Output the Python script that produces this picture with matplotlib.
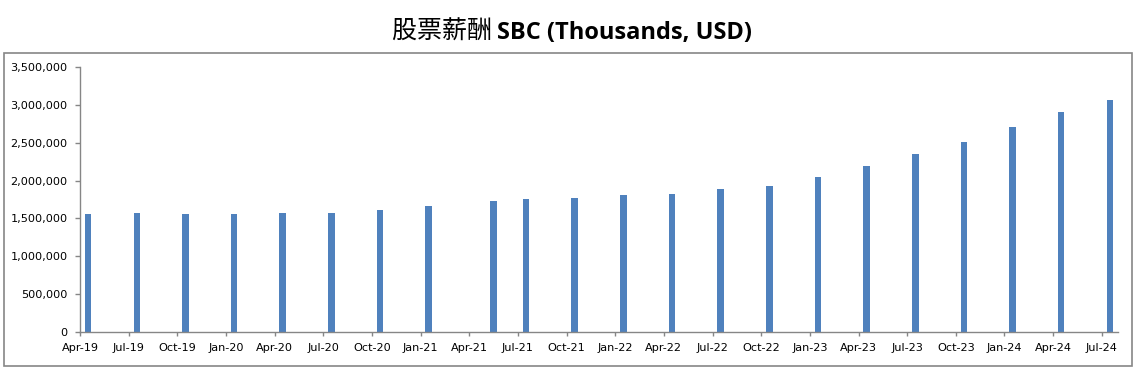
import pandas as pd
import matplotlib
matplotlib.use("Agg")
import matplotlib.pyplot as plt
from matplotlib.patches import Rectangle
from matplotlib.offsetbox import TextArea, HPacker, AnnotationBbox
from matplotlib.ticker import FuncFormatter

# quarterly SBC, thousands USD (note May-21 instead of Apr-21)
periods = ["2019-04", "2019-07", "2019-10", "2020-01", "2020-04", "2020-07",
           "2020-10", "2021-01", "2021-05", "2021-07", "2021-10", "2022-01",
           "2022-04", "2022-07", "2022-10", "2023-01", "2023-04", "2023-07",
           "2023-10", "2024-01", "2024-04", "2024-07"]
sbc = [1562000, 1571000, 1562000, 1562000, 1571000, 1571000,
       1611000, 1664000, 1730000, 1757000, 1770000, 1810000,
       1823000, 1889000, 1929000, 2048000, 2193000, 2352000,
       2511000, 2710000, 2908000, 3067000]
tick_labels = ["Apr-19", "Jul-19", "Oct-19", "Jan-20", "Apr-20", "Jul-20",
               "Oct-20", "Jan-21", "Apr-21", "Jul-21", "Oct-21", "Jan-22",
               "Apr-22", "Jul-22", "Oct-22", "Jan-23", "Apr-23", "Jul-23",
               "Oct-23", "Jan-24", "Apr-24", "Jul-24"]

start = pd.Period("2019-04", freq="M")
end = pd.Period("2024-07", freq="M")
# month slots, bars sit in the middle of their month like an excel date axis
x = [(pd.Period(p, freq="M") - start).n + 0.5 for p in periods]
n_months = (end - start).n + 1

bar_color = "#4F81BD"
grey = "#868686"

fig = plt.figure(figsize=(11.39, 3.73), dpi=100)
ax = fig.add_axes([80 / 1139, 1 - 331.7 / 373, (1118 - 80) / 1139, (331.7 - 67.3) / 373])

ax.bar(x, sbc, width=0.4, color=bar_color, zorder=2)

ax.set_xlim(0, n_months)
ax.set_ylim(0, 3500000)
ax.set_yticks(range(0, 3500001, 500000))
ax.yaxis.set_major_formatter(FuncFormatter(lambda v, p: f"{int(v):,}"))
ax.set_xticks(range(0, n_months, 3))
ax.set_xticklabels(tick_labels)

for side in ["top", "right"]:
    ax.spines[side].set_visible(False)
for side in ["left", "bottom"]:
    ax.spines[side].set_color(grey)
    ax.spines[side].set_linewidth(1)

ax.tick_params(axis="y", length=3.6, width=1, color=grey, pad=5.5,
               labelsize=8.1, labelcolor="black")
ax.tick_params(axis="x", length=3.2, width=1, color=grey, pad=5,
               labelsize=8.1, labelcolor="black")

# outer chart border
border = Rectangle((4 / 1139, 1 - 365.5 / 373), (1131.5 - 4) / 1139, (365.5 - 53) / 373,
                   transform=fig.transFigure, fill=False, edgecolor=grey,
                   linewidth=1.2)
fig.add_artist(border)

# title: chinese part regular, english part bold
t1 = TextArea("股票薪酬 ", textprops=dict(fontsize=18, family=["Noto Sans CJK SC"],
                                         color="black"))
t2 = TextArea("SBC (Thousands, USD)", textprops=dict(fontsize=17, weight="bold",
                                                     family=["Open Sans"], color="black"))
pack = HPacker(children=[t1, t2], pad=0, sep=0, align="baseline")
ab = AnnotationBbox(pack, (572 / 1139, 1 - 32 / 373), xycoords="figure fraction",
                    frameon=False, box_alignment=(0.5, 0.5))
fig.add_artist(ab)

fig.savefig("out.png", dpi=100)
